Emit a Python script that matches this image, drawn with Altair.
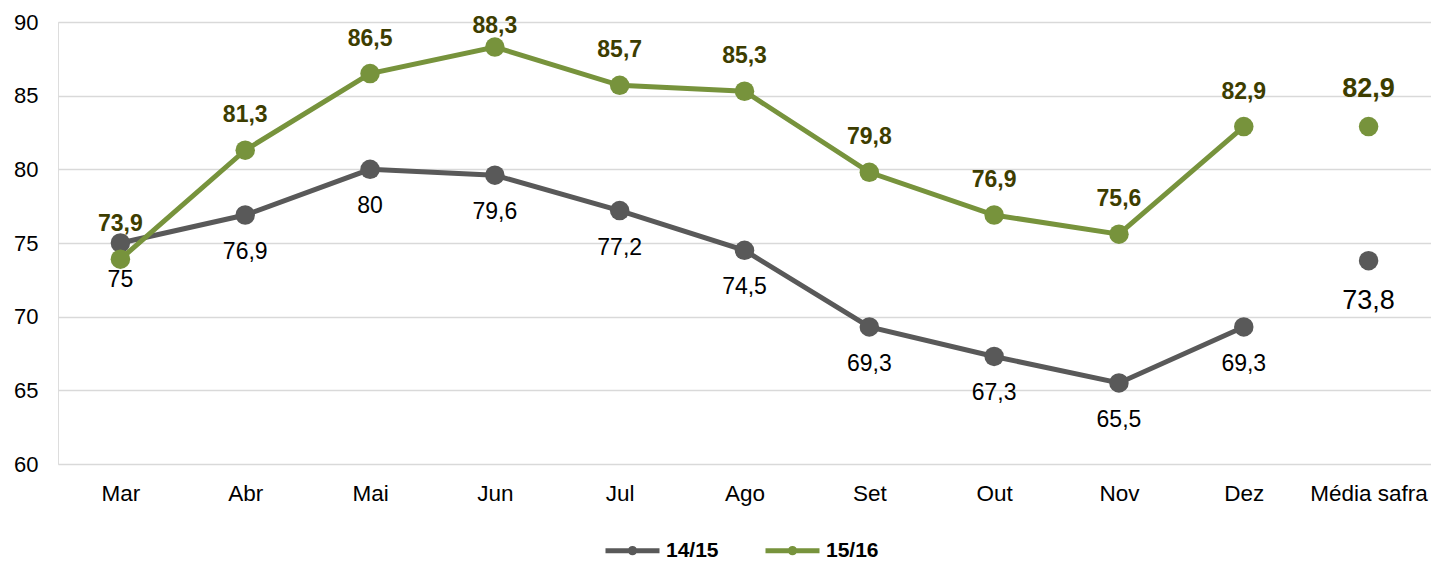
import altair as alt
import pandas as pd

months = ["Mar", "Abr", "Mai", "Jun", "Jul", "Ago", "Set", "Out", "Nov", "Dez", "Média safra"]
s1415 = [75, 76.9, 80, 79.6, 77.2, 74.5, 69.3, 67.3, 65.5, 69.3, 73.8]
s1516 = [73.9, 81.3, 86.5, 88.3, 85.7, 85.3, 79.8, 76.9, 75.6, 82.9, 82.9]
series = ["14/15", "15/16"]
y_ticks = [60, 65, 70, 75, 80, 85, 90]
AVG = "Média safra"
TOP_MONTH = "Jun"


def fmt(v):
    return f"{v:g}".replace(".", ",")


rows = []
for s, vals in zip(series, [s1415, s1516]):
    for m, v in zip(months, vals):
        rows.append({"mes": m, "serie": s, "valor": v, "rotulo": fmt(v)})
df = pd.DataFrame(rows)

FONT = "Liberation Sans, Arial, sans-serif"
GRAY = "#595959"
GREEN = "#77933C"

x = alt.X(
    "mes:N",
    sort=months,
    scale=alt.Scale(type="point", padding=0.5),
    axis=alt.Axis(title=None, labelAngle=0, labelFontSize=22.5, labelColor="#000000",
                  labelPadding=18, ticks=False, domain=False, grid=False, labelFont=FONT),
)
y = alt.Y(
    "valor:Q",
    scale=alt.Scale(domain=[60, 90], nice=False, zero=False),
    axis=alt.Axis(title=None, values=y_ticks, labelFontSize=22, labelColor="#000000",
                  labelPadding=20, ticks=False, domain=False, grid=True,
                  gridColor="#D9D9D9", gridWidth=1.5, labelFont=FONT),
)

legend_path = "M-1,0L1,0M-0.08,0A0.08,0.08,0,1,1,0.08,0A0.08,0.08,0,1,1,-0.08,0Z"
color_leg = alt.Color(
    "serie:N",
    scale=alt.Scale(domain=series, range=[GRAY, GREEN]),
    legend=alt.Legend(
        title=None, orient="none", legendX=545, legendY=499, direction="horizontal",
        symbolType=legend_path, symbolSize=2916, symbolStrokeWidth=5,
        labelFontSize=21, labelFontWeight="bold", labelColor="#000000", labelFont=FONT,
        columnPadding=36, labelOffset=4,
    ),
)
color_noleg = alt.Color("serie:N", scale=alt.Scale(domain=series, range=[GRAY, GREEN]), legend=None)

base = alt.Chart(df)


def line(s):
    return (base.transform_filter(f"datum.serie == '{s}' && datum.mes != '{AVG}'")
            .mark_line(strokeWidth=5)
            .encode(x=x, y=y, color=color_leg))


def pts(s):
    return (base.transform_filter(f"datum.serie == '{s}'")
            .mark_circle(size=380, opacity=1)
            .encode(x=x, y=y, color=color_noleg))


def labels(s, cond, dy, size, bold, col):
    return (base.transform_filter(f"datum.serie == '{s}' && ({cond})")
            .mark_text(dy=dy, fontSize=size, fontWeight="bold" if bold else "normal",
                       color=col, font=FONT, baseline="middle")
            .encode(x=x, y=y, text="rotulo:N"))


is_avg = f"datum.mes == '{AVG}'"
not_avg = f"datum.mes != '{AVG}'"
not_avg_top = f"datum.mes != '{AVG}' && datum.mes != '{TOP_MONTH}'"
is_top = f"datum.mes == '{TOP_MONTH}'"

chart = alt.layer(
    line("14/15"), pts("14/15"),
    line("15/16"), pts("15/16"),
    labels("14/15", not_avg, 37, 23, False, "#000000"),
    labels("14/15", is_avg, 40, 27, False, "#000000"),
    labels("15/16", not_avg_top, -35, 23, True, "#3D3D00"),
    labels("15/16", is_top, -21, 23, True, "#3D3D00"),
    labels("15/16", is_avg, -38, 27, True, "#3D3D00"),
).properties(
    width=1373, height=442,
    autosize=alt.AutoSizeParams(type="none"),
    padding={"left": 50, "top": 14, "right": 0, "bottom": 100},
).configure_view(stroke=None).configure(font=FONT)

chart.save("out.html", embed_options={"renderer": "svg", "actions": False})
